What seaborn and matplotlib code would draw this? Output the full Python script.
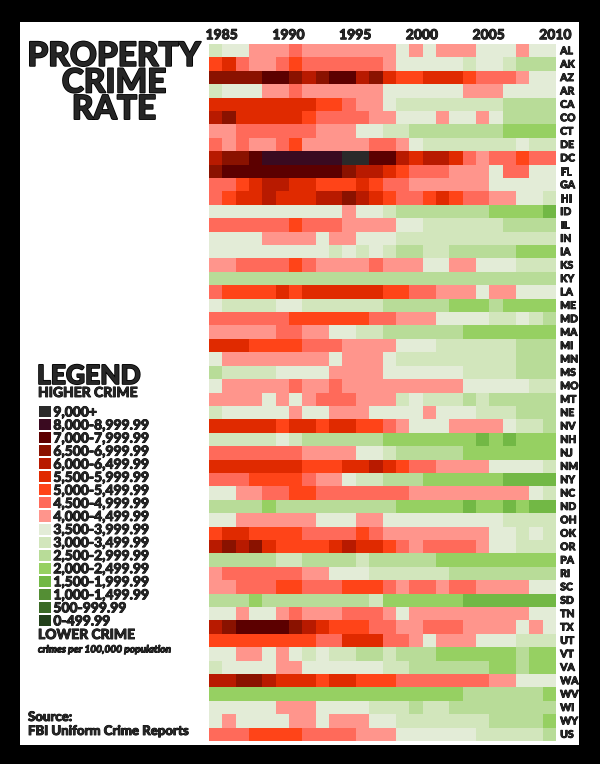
import numpy as np
import pandas as pd
import matplotlib.pyplot as plt
import matplotlib.patheffects as pe
from matplotlib.colors import ListedColormap, BoundaryNorm
from matplotlib.patches import Rectangle
import seaborn as sns

sns.set_style('white')
plt.rcParams['font.family'] = ['Lato', 'DejaVu Sans']

years = list(range(1985, 2011))
states = ["AL", "AK", "AZ", "AR", "CA", "CO", "CT", "DE", "DC", "FL", "GA", "HI",
          "ID", "IL", "IN", "IA", "KS", "KY", "LA", "ME", "MD", "MA", "MI", "MN",
          "MS", "MO", "MT", "NE", "NV", "NH", "NJ", "NM", "NY", "NC", "ND", "OH",
          "OK", "OR", "PA", "RI", "SC", "SD", "TN", "TX", "UT", "VT", "VA", "WA",
          "WV", "WI", "WY", "US"]

# rate bins (crimes per 100,000), lowest first
bin_edges = [0, 500, 1000, 1500, 2000, 2500, 3000, 3500, 4000, 4500, 5000,
             5500, 6000, 6500, 7000, 8000, 9000, 10000]
bin_labels = ["0-499.99", "500-999.99", "1,000-1,499.99", "1,500-1,999.99",
              "2,000-2,499.99", "2,500-2,999.99", "3,000-3,499.99", "3,500-3,999.99",
              "4,000-4,499.99", "4,500-4,999.99", "5,000-5,499.99", "5,500-5,999.99",
              "6,000-6,499.99", "6,500-6,999.99", "7,000-7,999.99", "8,000-8,999.99",
              "9,000+"]
bin_colors = ["#22401a", "#3b6a26", "#548e34", "#72b845", "#96d062", "#b8dc98",
              "#d2e6bc", "#e3ecd7", "#ff958c", "#ff6a5a", "#ff4418", "#e02a00",
              "#b81a00", "#8a1200", "#5c0000", "#3a0a20", "#2a2a2a"]
# one letter per year, A = lowest bin ... Q = 9,000+
bin_codes = "ABCDEFGHIJKLMNOPQ"

row_codes = [
    "G H H I I I J I I I I I I I H I H I I I H H H I H H",  # AL
    "K L J I I J K J J J J J J I H H H H H G H H G F F F",  # AK
    "N N N N O O N M N O O M N L K K L L L K J J J I H H",  # AZ
    "G H H H I I J I I I I I I H H H H H H I I I H H H H",  # AR
    "L L L L L L L L K K J I I H G G G G G G G G F F F F",  # CA
    "M N L L L L L K J J J J I I H H H I H H I H F F F F",  # CO
    "I I J J J J J J I I I H H G G F F F F F F F E E E E",  # CT
    "J I J I I J K I I I I I J J I H G G G G G G G H G G",  # DE
    "M N N O P P P P P P Q Q O O M L M M L J I J J K J J",  # DC
    "N O O O O O O O O O N M M L K J J J I I I H J J H H",  # FL
    "J J K L M M L L K K K L K J J I I I I I I H H H H H",  # GA
    "J K L L M L L L M M N M L K J J K L K J J I I H H G",  # HI
    "H H H H H H H H H H I H H G F F F F F F F E E E E D",  # ID
    "J J J J J J K J J J I I I I H H G G G G G G F F F F",  # IL
    "H H H H I I I I H I I H H H G G G G G G G G G G G G",  # IN
    "H H H H H H H H H G H G H G F F G G F F F F F E E E",  # IA
    "I I J J J J K J I I I I J I I I H H I I H H H G G G",  # KS
    "F F F F F F F F F F F F F F F F F F F F F F F F F F",  # KY
    "J K K K K L K L L L L L L K K J J I I I H I I H H H",  # LA
    "H G G G G H H G G G G G G F F F F F E E E F E E E E",  # ME
    "J J J J J J K K K K K K J J I I I H H H H G G H G F",  # MD
    "I I I I I J J I I H H G G F F F F F F E E E E E E E",  # MA
    "L L L K K K K J J J I I I I H H H G G G G G G F F F",  # MI
    "H I I I I I I I I H I I I H G G G G G G G G G F F F",  # MN
    "F G G G G H H H H I I I I H H H H H H G G G G F F F",  # MS
    "H I I I I I J I I J I I I I I I I I I H H H H H G G",  # MO
    "I I I I H I H I J J J I I I G H G G G F G F F F F F",  # MT
    "G H H H H H I H H I I I H H H H I H H H G G G F F F",  # NE
    "L L L L L K L L K L L K K J I H H H I I I I H G G F",  # NV
    "G G G G G H G F F F F F F E E E E E E E D E D E E E",  # NH
    "J J J J J J J I I I I H H G F F F F F E E E E E E E",  # NJ
    "L L L L L L L K K K L L M L K J J I I I I H H H H G",  # NM
    "J J J K K K K J I I H G G F F F E E E E E E D D D D",  # NY
    "H H I I J J K K J J J J J J J I I I I I I I I I H G",  # NC
    "F F F F E F F F F F F F F F E E E E E D E E D E D D",  # ND
    "H H I I I I I I H H H I I H H H H H H H H H G G G G",  # OH
    "K L L K K K K J J J J K J I I I I I I I I H H G H G",  # OK
    "M N M N L K K K K L M L L K J I J J J J I H H G G G",  # OR
    "F F F F F G G F F F F G F F F F F E E E E E E E E E",  # PA
    "I J J J J J J I I H H H G G G G G G F F F F F F F F",  # RI
    "I I J J J K K J J J K K K J I J J I J J I I I I H H",  # SC
    "F F F E F F F F F F F F G E E E E E E D D D D D D D",  # SD
    "H H I H H I J I I I J J J I H I I I I I I I I I H H",  # TN
    "M N O O O O N M L K K K J J I I J J J I I I I H I H",  # TX
    "K K K K K K K K J J L L L J J I H I I I H H H G G G",  # UT
    "H H I I H I H G H G G F F G F F F E E E E E E F E E",  # VT
    "G H H H H I I H H H H H H G G F F F F F F E E F E E",  # VA
    "M M N N M L L L K L L K K K J J J J J J J I I H H H",  # WA
    "E E E E E E E E E E E E E E E E E E E F F F F F F E",  # WV
    "H H H H H I I I H H H H G G G F G G F F F F F F F F",  # WI
    "H I H H H H I I H I I I H H G G G G G G G F F F F E",  # WY
    "J J J K K K K J J J J I I I H H H H H H G G G G G F",  # US
]

# estimated rate = middle of the bin each cell falls in
bin_mid = [(lo + hi) / 2 for lo, hi in zip(bin_edges[:-1], bin_edges[1:])]
rates = pd.DataFrame([[bin_mid[bin_codes.index(c)] for c in row.split()] for row in row_codes],
                     index=states, columns=years)

cmap = ListedColormap(bin_colors)
norm = BoundaryNorm(bin_edges, cmap.N)

# slight outline to make the text look heavier
thick = [pe.withStroke(linewidth=0.6, foreground='black')]
thicker = [pe.withStroke(linewidth=1.2, foreground='black')]

W, H = 600, 764
fig = plt.figure(figsize=(W / 100, H / 100), dpi=100, facecolor='black')
fig.add_artist(Rectangle((20 / W, 1 - 745 / H), 559 / W, 723 / H, transform=fig.transFigure,
                         facecolor='white', edgecolor='none', zorder=0))

ax = fig.add_axes([209 / W, 1 - 741 / H, 347 / W, 697 / H])
sns.heatmap(rates, cmap=cmap, norm=norm, cbar=False, ax=ax)
ax.xaxis.tick_top()
ax.set_xticks(np.arange(0, len(years), 5) + 0.95)
ax.set_xticklabels(years[::5], fontsize=10, fontweight='black', rotation=0, path_effects=thick)
ax.yaxis.tick_right()
ax.set_yticks(np.arange(len(states)) + 0.5)
ax.set_yticklabels(states, fontsize=7.5, fontweight='black', rotation=0, path_effects=thick)
ax.tick_params(length=0, pad=3)
ax.tick_params(axis='x', pad=2)
ax.set_xlabel('')
ax.set_ylabel('')

# legend as a one-column heatmap
lax = fig.add_axes([38 / W, 1 - 627 / H, 14 / W, 222 / H])
legend_df = pd.DataFrame({'v': bin_mid[::-1]}, index=bin_labels[::-1])
sns.heatmap(legend_df, cmap=cmap, norm=norm, cbar=False, ax=lax,
            linewidths=0.3, linecolor='white', xticklabels=False)
lax.yaxis.tick_right()
lax.set_yticks(np.arange(len(bin_labels)) + 0.5)
lax.set_yticklabels(bin_labels[::-1], fontsize=10, fontweight='black', rotation=0,
                    path_effects=thick)
lax.tick_params(length=0, pad=1)
lax.set_ylabel('')

fig.text(114 / W, 1 - 83 / H, "PROPERTY\nCRIME\nRATE", ha='center', va='center',
         fontsize=24, fontweight='black', linespacing=0.9, path_effects=thicker)
fig.text(37 / W, 1 - 376 / H, "LEGEND", fontsize=19, fontweight='black', va='center',
         path_effects=thicker)
fig.text(38 / W, 1 - 393 / H, "HIGHER CRIME", fontsize=10, fontweight='black', va='center',
         path_effects=thick)
fig.text(38 / W, 1 - 635 / H, "LOWER CRIME", fontsize=10, fontweight='black', va='center',
         path_effects=thick)
fig.text(38 / W, 1 - 650 / H, "crimes per 100,000 population", fontsize=7.3,
         fontweight='black', style='italic', va='center', path_effects=thick)
fig.text(28 / W, 1 - 717 / H, "Source:", fontsize=9.5, fontweight='black', va='center',
         path_effects=thick)
fig.text(28 / W, 1 - 731 / H, "FBI Uniform Crime Reports", fontsize=9.5,
         fontweight='black', va='center', path_effects=thick)

fig.savefig('out.png', dpi=100, facecolor='black')
